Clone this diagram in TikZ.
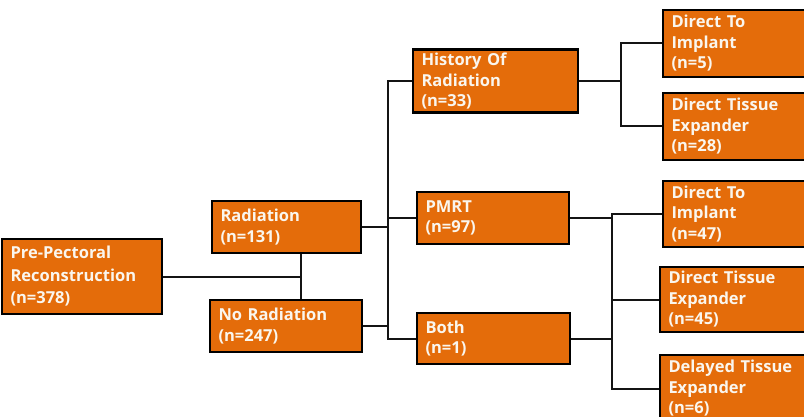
\documentclass[tikz,border=0pt]{standalone}
\usepackage{fontspec}
\setmainfont{Open Sans}
\usepackage{tikz}
\usetikzlibrary{positioning, calc}
\definecolor{boxorange}{RGB}{228,108,10}
\definecolor{boxtext}{RGB}{250,246,238}
\definecolor{linegray}{RGB}{20,20,20}
\tikzset{
  box/.style 2 args={rectangle, draw=black, line width=2.8pt, fill=boxorange,
    text=boxtext, font=\fontsize{16.5}{20.5}\selectfont\bfseries, align=left,
    minimum width=#1, text width=#1-17pt, minimum height=#2, inner xsep=8.5pt,
    inner ysep=0pt},
  link/.style={line width=2pt, color=linegray},
}
\begin{document}
\begin{tikzpicture}[x=1pt, y=-1pt]
  \useasboundingbox (0,0) rectangle (804,417);
  \clip (0,0) rectangle (804,417);
  % Level 0
  \node[box={160pt}{75pt}, font=\fontsize{16.5}{22.5}\selectfont\bfseries] (root) at (82,276.5)
    {Pre-Pectoral\\Reconstruction\\(n=378)};
  % Level 1
  \node[box={149pt}{52pt}] (rad) at (286.5,227) {Radiation\\(n=131)};
  \node[box={152pt}{52pt}] (norad) at (286,326) {No Radiation\\(n=247)};
  % Level 2
  \node[box={165pt}{63pt}] (hist) at (495.5,81) {History Of\\Radiation\\(n=33)};
  \node[box={152pt}{52pt}] (pmrt) at (493,218) {PMRT\\(n=97)};
  \node[box={153pt}{51pt}] (both) at (493.5,338.5) {Both\\(n=1)};
  % Level 3
  \node[box={170pt}{67pt}] (dtiA) at (748,43.5) {Direct To\\Implant\\(n=5)};
  \node[box={170pt}{67pt}] (dteA) at (748,126.5) {Direct Tissue\\Expander\\(n=28)};
  \node[box={170pt}{66pt}] (dtiB) at (748,214) {Direct To\\Implant\\(n=47)};
  \node[box={172pt}{65pt}] (dteB) at (746,299.5) {Direct Tissue\\Expander\\(n=45)};
  \node[box={172pt}{67pt}] (dlte) at (746,388.5) {Delayed Tissue\\Expander\\(n=6)};
  % Connectors
  \coordinate (j1) at (301,276.5);
  \coordinate (s2) at (388,227);
  \coordinate (s3) at (621,81);
  \coordinate (s4) at (612,218);
  \draw[link] (root.east) -- (j1);
  \draw[link] (rad.south -| j1) -- (norad.north -| j1);
  \draw[link] (rad.east) -- (s2);
  \draw[link] (norad.east) -- (norad.east -| s2);
  \draw[link] (hist.west) -| (s2 |- both.west) -- (both.west);
  \draw[link] (pmrt.west) -- (pmrt.west -| s2);
  \draw[link] (hist.east) -- (s3);
  \draw[link] (dtiA.west) -| (s3) |- (dteA.west);
  \draw[link] (pmrt.east) -- (s4);
  \draw[link] (both.east) -- (both.east -| s4);
  \draw[link] (dtiB.west) -| (s4 |- dlte.west) -- (dlte.west);
  \draw[link] (dteB.west) -- (dteB.west -| s4);
\end{tikzpicture}
\end{document}
